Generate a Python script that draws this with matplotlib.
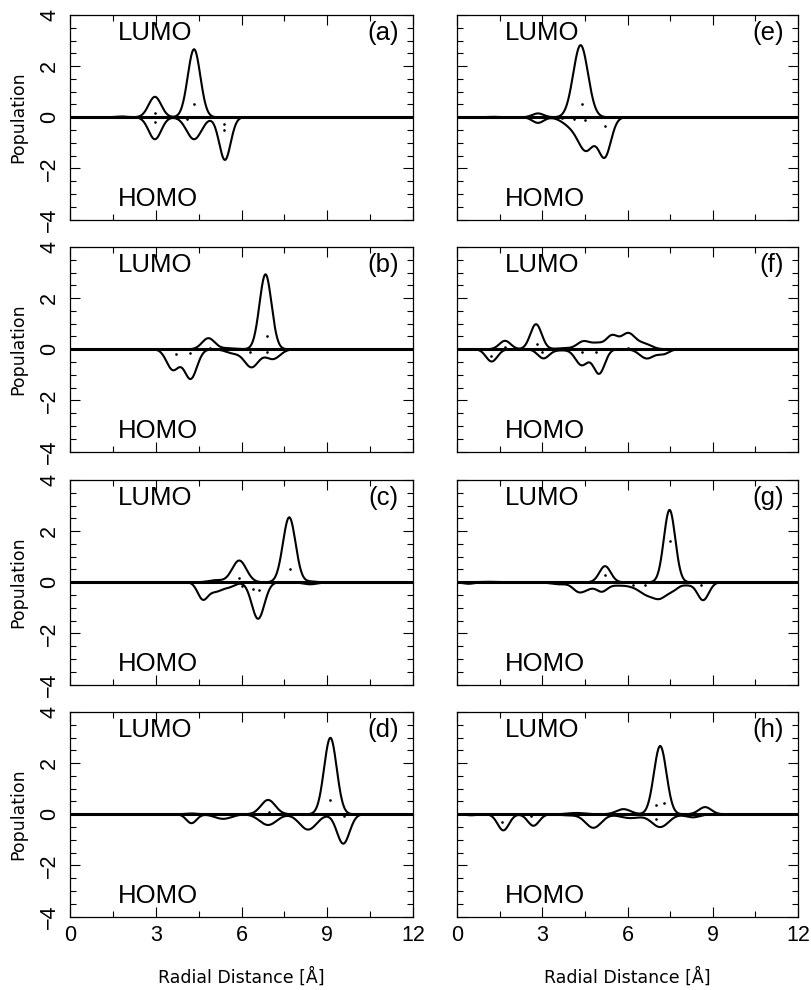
import numpy as np
import matplotlib
matplotlib.use("Agg")
import matplotlib.pyplot as plt
from matplotlib.ticker import MultipleLocator

plt.rcParams["font.family"] = ["Liberation Sans", "DejaVu Sans"]

# peaks: (centre [A], height, width [A])
lumo_a = [(1.8, 0.03, 0.2), (2.97, 0.8, 0.22), (4.34, 2.66, 0.22)]
homo_a = [(2.97, -0.86, 0.22), (4.34, -0.86, 0.26), (5.42, -1.67, 0.2)]
lumo_b = [(4.84, 0.43, 0.22), (5.5, 0.04, 0.3), (6.84, 2.93, 0.21)]
homo_b = [(3.6, -0.8, 0.22), (4.22, -1.15, 0.22), (5.7, -0.15, 0.25),
          (6.35, -0.7, 0.25), (7.1, -0.38, 0.25)]
lumo_c = [(5.1, 0.08, 0.25), (5.92, 0.85, 0.25), (7.67, 2.54, 0.22), (8.4, 0.03, 0.2)]
homo_c = [(4.64, -0.62, 0.18), (5.1, -0.35, 0.25), (5.6, -0.15, 0.2),
          (6.58, -1.43, 0.22), (8.4, -0.08, 0.25)]
lumo_d = [(4.25, 0.03, 0.2), (6.93, 0.56, 0.25), (9.11, 2.99, 0.22)]
homo_d = [(4.25, -0.35, 0.18), (5.36, -0.18, 0.3), (6.93, -0.42, 0.3),
          (8.33, -0.6, 0.3), (9.56, -1.15, 0.22)]
lumo_e = [(1.2, 0.02, 0.2), (2.85, 0.15, 0.2), (4.35, 2.82, 0.26)]
homo_e = [(2.85, -0.22, 0.2), (4.0, -0.3, 0.3), (4.55, -1.25, 0.28), (5.2, -1.5, 0.22)]
lumo_f = [(1.69, 0.33, 0.2), (2.78, 0.98, 0.2), (3.8, 0.04, 0.3), (4.45, 0.3, 0.22),
          (4.95, 0.22, 0.22), (5.45, 0.5, 0.2), (6.02, 0.62, 0.25), (6.6, 0.2, 0.25)]
homo_f = [(1.22, -0.48, 0.2), (3.04, -0.35, 0.2), (3.6, -0.04, 0.3), (4.39, -0.62, 0.22),
          (5.0, -0.95, 0.2), (6.68, -0.36, 0.25), (7.26, -0.18, 0.2)]
lumo_g = [(1.0, 0.02, 0.3), (5.21, 0.63, 0.2), (7.48, 2.83, 0.2)]
homo_g = [(0.4, -0.06, 0.2), (3.6, -0.08, 0.3), (4.27, -0.33, 0.2), (4.6, -0.2, 0.2),
          (5.09, -0.35, 0.2), (5.6, -0.1, 0.25), (6.2, -0.15, 0.3), (6.67, -0.38, 0.25),
          (7.14, -0.57, 0.25), (7.6, -0.25, 0.2), (8.1, -0.1, 0.2), (8.66, -0.7, 0.2)]
lumo_h = [(4.2, 0.05, 0.3), (5.86, 0.2, 0.25), (7.15, 2.67, 0.22), (8.73, 0.28, 0.22)]
homo_h = [(0.5, -0.04, 0.2), (1.63, -0.63, 0.2), (2.69, -0.45, 0.2), (3.9, -0.04, 0.3),
          (4.8, -0.53, 0.28), (6.1, -0.15, 0.35), (7.15, -0.5, 0.3), (8.3, -0.12, 0.25)]

# little dots inside the curves
dots_a = [(2.97, 0.17), (2.97, -0.17), (4.34, 0.5), (3.75, -0.03), (4.1, -0.05), (5.4, -0.25), (5.4, -0.5)]
dots_b = [(6.9, 0.5), (3.7, -0.2), (4.2, -0.15), (4.9, 0.05), (6.3, -0.1), (6.9, -0.1)]
dots_c = [(7.7, 0.5), (5.9, 0.15), (6.0, -0.15), (6.4, -0.25), (6.6, -0.3)]
dots_d = [(9.1, 0.55), (6.95, 0.1), (9.6, -0.05), (4.2, 0.02)]
dots_e = [(4.4, 0.5), (3.7, -0.03), (4.1, -0.05), (4.5, -0.1), (5.2, -0.35)]
dots_f = [(1.7, 0.1), (1.2, -0.25), (2.8, 0.2), (3.0, -0.1), (4.4, -0.1), (4.9, -0.1), (6.0, 0.05)]
dots_g = [(7.5, 1.6), (5.2, 0.3), (6.2, -0.1), (6.6, -0.1), (8.6, -0.1)]
dots_h = [(7.0, 0.35), (7.3, 0.45), (7.0, -0.2), (1.6, -0.3), (2.6, -0.05)]

panel_labels = ["(a)", "(b)", "(c)", "(d)", "(e)", "(f)", "(g)", "(h)"]
lumo_all = [lumo_a, lumo_b, lumo_c, lumo_d, lumo_e, lumo_f, lumo_g, lumo_h]
homo_all = [homo_a, homo_b, homo_c, homo_d, homo_e, homo_f, homo_g, homo_h]
dots_all = [dots_a, dots_b, dots_c, dots_d, dots_e, dots_f, dots_g, dots_h]

x_ticks = [0, 3, 6, 9, 12]
y_ticks = [-4, -2, 0, 2, 4]

r = np.linspace(0, 12, 1201)


def curve(peaks):
    y = np.zeros_like(r)
    for c, h, w in peaks:
        y += h * np.exp(-(r - c) ** 2 / (2 * w ** 2))
    return y


fig = plt.figure(figsize=(8.11, 9.9), dpi=100)
W, H = 811.0, 990.0
col_left = [70, 457]
col_width = [343, 341]
row_top = [15, 247, 480, 712]
row_h = 204.5

for i in range(8):
    col = i // 4
    row = i % 4
    ax = fig.add_axes([col_left[col] / W, 1 - (row_top[row] + row_h) / H,
                       col_width[col] / W, row_h / H])

    ax.axhline(0, color="black", lw=2.2, zorder=3)
    ax.plot(r, curve(lumo_all[i]), color="black", lw=1.5, zorder=4)
    ax.plot(r, curve(homo_all[i]), color="black", lw=1.5, zorder=4)
    dx = [p[0] for p in dots_all[i]]
    dy = [p[1] for p in dots_all[i]]
    ax.plot(dx, dy, ls="none", marker="o", ms=0.9, color="black", zorder=5)

    ax.set_xlim(0, 12)
    ax.set_ylim(-4, 4)
    ax.set_xticks(x_ticks)
    ax.set_yticks(y_ticks)
    ax.xaxis.set_minor_locator(MultipleLocator(1.5))
    ax.yaxis.set_minor_locator(MultipleLocator(0.5))
    ax.tick_params(which="both", direction="in", top=True, right=True, width=0.8)
    ax.tick_params(which="major", length=7.5)
    ax.tick_params(which="minor", length=4.2)
    ax.tick_params(axis="x", labelsize=15.5, pad=6)
    ax.tick_params(axis="y", labelsize=15.5, pad=7, labelrotation=90)
    for s in ax.spines.values():
        s.set_linewidth(0.9)

    ax.text(1.68, 3.29, "LUMO", fontsize=18.5, va="center", ha="left")
    ax.text(1.68, -3.19, "HOMO", fontsize=18.5, va="center", ha="left")
    ax.text(11.5, 3.29, panel_labels[i], fontsize=18.5, va="center", ha="right")

    if col == 0:
        for lab in ax.get_yticklabels():
            lab.set_va("center")
        ax.set_ylabel("Population", fontsize=12.5, va="center", family="DejaVu Sans")
        ax.yaxis.set_label_coords(-0.152, 0.5)
    else:
        ax.set_yticklabels([])

    if row == 3:
        ax.set_xlabel("Radial Distance [Å]", fontsize=12.5, va="center", family="DejaVu Sans")
        ax.xaxis.set_label_coords(0.5, -0.298)
    else:
        ax.set_xticklabels([])

fig.savefig("out.png", dpi=100)
